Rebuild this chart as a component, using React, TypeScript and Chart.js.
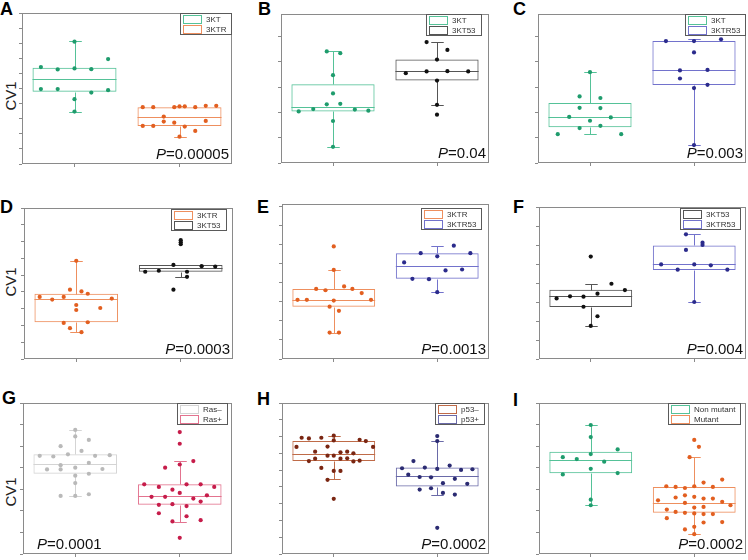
import React, { useEffect, useRef } from 'react';
import { Chart, registerables } from 'chart.js';
Chart.register(...registerables);

const FONT = "'Liberation Sans', Arial, Helvetica, sans-serif";

// ---------------- DATA ----------------
const panelLetters = ['A', 'B', 'C', 'D', 'E', 'F', 'G', 'H', 'I'];
const groupLabels = [
  ['3KT', '3KTR'],
  ['3KT', '3KT53'],
  ['3KT', '3KTR53'],
  ['3KTR', '3KT53'],
  ['3KTR', '3KTR53'],
  ['3KT53', '3KTR53'],
  ['Ras\u2013', 'Ras+'],
  ['p53\u2013', 'p53+'],
  ['Non mutant', 'Mutant'],
];
const pValues = ['0.00005', '0.04', '0.003', '0.0003', '0.0013', '0.004', '0.0001', '0.0002', '0.0002'];
const yMax = [10, 5.89, 5.89, 9, 8.14, 8, 7, 9, 7];
const yTickStep = [1, 1, 1, 1, 1, 1, 1, 1, 1];
const xCategoryPositions = [1, 2];

// box stats: [lower whisker, Q1, median, Q3, upper whisker]
const A1_values = [6.42, 6.26, 6.33, 6.28, 6.95, 4.96, 4.96, 8.10, 4.29, 3.47, 4.73, 4.89];
const A1_jitter = [-0.32, -0.16, 0, 0.16, 0.32, -0.32, -0.16, 0, 0, 0, 0.16, 0.32];
const A1_box = [3.47, 4.78, 5.62, 6.37, 8.12];
const A2_values = [3.76, 3.76, 3.76, 3.81, 3.81, 3.76, 3.85, 3.85, 3.14, 2.81, 2.74, 2.52, 2.52, 2.48, 2.19, 2.85, 1.81];
const A2_jitter = [-0.35, -0.25, -0.05, 0, 0.05, 0.15, 0.25, 0.35, -0.15, -0.15, -0.05, -0.35, -0.25, 0.05, 0.15, 0.25, 0];
const A2_box = [1.81, 2.52, 3.14, 3.76, 3.85];

const B1_values = [4.41, 4.34, 3.47, 2.75, 2.32, 2.34, 2.13, 2.04, 2.11, 2.07, 1.66, 0.64];
const B1_jitter = [-0.06, 0.07, 0, 0, -0.06, 0.07, -0.19, -0.33, 0.21, 0.34, 0, 0];
const B1_box = [0.64, 2.04, 2.21, 3.11, 4.41];
const B2_values = [4.78, 4.47, 4.09, 3.55, 3.62, 3.63, 3.62, 3.26, 2.30, 1.91];
const B2_jitter = [-0.10, 0.10, 0, -0.30, -0.10, 0.10, 0.30, 0, 0, 0];
const B2_box = [2.30, 3.26, 3.62, 4.09, 4.78];

const C1_values = [2.63, 2.57, 2.18, 2.17, 1.82, 1.80, 1.67, 1.38, 1.47, 1.14, 1.14, 3.59];
const C1_jitter = [-0.10, 0.10, -0.10, 0.10, -0.20, 0.20, 0, -0.10, 0.10, -0.31, 0.30, 0];
const C1_box = [1.13, 1.41, 1.80, 2.37, 3.59];
const C2_values = [4.82, 4.82, 4.89, 4.37, 3.66, 3.68, 3.34, 2.96, 3.09, 0.71];
const C2_jitter = [-0.27, 0, 0.26, 0, -0.135, 0.13, -0.135, 0, 0.13, 0];
const C2_box = [0.71, 3.08, 3.68, 4.82, 4.91];

const D1_values = [3.70, 3.54, 3.70, 4.13, 4.03, 3.89, 3.60, 3.22, 2.92, 3.04, 2.15, 2.19, 1.84, 1.60, 5.85];
const D1_jitter = [-0.35, -0.23, -0.12, -0.06, 0.05, 0.11, 0.34, 0, 0, 0.23, -0.12, 0.11, -0.06, 0.05, 0];
const D1_box = [1.60, 2.19, 3.56, 3.89, 5.85];
const D2_values = [7.08, 6.96, 6.84, 5.20, 5.26, 5.61, 5.20, 4.90, 5.53, 5.51, 4.13];
const D2_jitter = [0, 0, 0, -0.34, -0.21, -0.07, 0.06, 0.06, 0.20, 0.33, -0.07];
const D2_box = [4.90, 5.20, 5.40, 5.61, 5.61];

const E1_values = [5.91, 4.68, 3.68, 3.61, 3.81, 3.68, 3.46, 3.11, 3.11, 3.07, 3.11, 2.75, 2.53, 1.39, 1.39];
const E1_jitter = [0, 0, -0.17, -0.08, 0.10, 0.18, 0.27, -0.35, -0.26, 0, 0.36, -0.04, 0.05, -0.04, 0.05];
const E1_box = [1.39, 2.75, 3.11, 3.68, 4.68];
const E2_values = [5.07, 5.56, 5.39, 5.95, 5.56, 4.21, 4.19, 4.65, 4.70, 3.51];
const E2_jitter = [-0.32, -0.16, 0, 0.16, 0.32, -0.24, -0.08, 0.08, 0.24, 0];
const E2_box = [3.51, 4.21, 4.88, 5.56, 5.96];

const F1_values = [3.19, 3.30, 3.28, 3.44, 3.63, 5.39, 3.96, 2.75, 2.25, 1.74];
const F1_jitter = [-0.33, -0.20, -0.07, 0.065, 0.33, 0, 0.20, -0.07, 0.065, 0];
const F1_box = [1.74, 2.74, 3.32, 3.65, 3.96];
const F2_values = [6.56, 6.12, 6.00, 5.74, 4.98, 4.98, 4.93, 4.70, 4.70, 3.00];
const F2_jitter = [-0.08, 0.08, 0.08, -0.08, -0.32, 0, 0.16, -0.16, 0.32, 0];
const F2_box = [3.00, 4.68, 4.98, 5.98, 6.58];

const G1_values = [4.55, 4.52, 4.62, 4.78, 4.55, 4.58, 3.92, 4.12, 3.92, 4.00, 4.22, 3.94, 3.72, 3.63, 3.29, 2.69, 2.69, 2.77, 5.00, 5.45, 5.75, 5.29];
const G1_jitter = [-0.34, -0.21, -0.07, 0.06, 0.19, 0.33, -0.27, -0.14, -0.14, 0, 0.13, 0.26, 0.13, 0, 0, -0.14, 0, 0.13, -0.14, 0, 0, 0.13];
const G1_box = [2.69, 3.72, 4.18, 4.62, 5.75];
const G2_values = [5.65, 5.11, 4.31, 4.15, 4.00, 3.23, 3.11, 2.98, 3.23, 3.23, 3.11, 2.65, 2.65, 2.83, 2.57, 2.72, 2.43, 2.28, 2.31, 2.22, 1.89, 1.75, 1.51, 1.57, 0.75];
const G2_jitter = [0, 0, 0.13, 0, -0.14, -0.34, -0.20, -0.07, 0.065, 0.20, 0.33, -0.27, -0.14, 0, 0.13, 0.26, 0.20, -0.20, -0.07, 0.065, -0.20, 0.065, -0.07, 0.20, 0];
const G2_box = [1.49, 2.28, 2.71, 3.23, 4.31];

const H1_values = [6.38, 6.93, 6.89, 6.93, 7.05, 6.77, 6.81, 6.73, 6.38, 6.40, 6.10, 6.06, 6.10, 6.00, 5.86, 5.86, 5.54, 5.68, 5.68, 5.70, 5.52, 5.56, 5.13, 4.95, 4.95, 4.42, 3.29];
const H1_jitter = [-0.36, -0.31, -0.24, -0.12, 0, 0, 0.25, 0.31, 0.38, -0.06, -0.18, 0.065, 0.13, 0.19, -0.06, 0, -0.24, -0.18, 0.065, 0.13, 0.19, 0.25, -0.12, 0, 0.065, -0.06, 0];
const H1_box = [4.48, 5.54, 5.98, 6.73, 7.05];
const H2_values = [7.03, 6.73, 5.54, 5.11, 5.15, 5.07, 5.27, 5.01, 5.05, 4.73, 4.59, 4.57, 4.48, 4.22, 4.18, 3.84, 3.92, 3.64, 3.54, 1.56];
const H2_jitter = [0, 0, -0.23, -0.34, -0.12, 0, 0.12, 0.23, 0.34, -0.28, -0.17, -0.06, 0.17, 0.055, 0.29, -0.17, -0.06, 0.055, 0.17, 0];
const H2_box = [3.54, 4.02, 4.67, 5.15, 6.75];

const I1_values = [4.49, 4.40, 4.63, 4.28, 4.85, 3.69, 3.95, 3.75, 5.42, 5.98, 2.52, 2.26];
const I1_jitter = [-0.27, -0.135, 0, 0.13, 0.26, -0.27, 0, 0.26, 0, 0, 0, 0];
const I1_box = [2.26, 3.74, 4.34, 4.74, 5.98];
const I2_values = [5.29, 4.97, 4.49, 3.14, 3.11, 3.06, 3.14, 3.31, 3.11, 3.45, 2.62, 2.72, 2.65, 2.57, 2.57, 2.42, 2.49, 2.37, 2.15, 2.18, 2.26, 2.06, 1.95, 1.91, 1.88, 1.85, 1.85, 1.66, 1.14, 1.26, 1.46, 1.48, 0.92];
const I2_jitter = [0, 0.045, -0.045, -0.27, -0.18, -0.09, 0, 0.09, 0.18, 0.27, -0.18, -0.09, 0, 0.09, 0.18, 0.27, -0.35, -0.09, 0, 0.09, 0.35, -0.265, -0.18, -0.09, 0, 0.09, 0.18, -0.265, -0.09, 0, 0.09, 0.27, 0];
const I2_box = [0.92, 1.91, 2.35, 3.11, 4.49];

const panelValues = [
  [A1_values, A2_values], [B1_values, B2_values], [C1_values, C2_values],
  [D1_values, D2_values], [E1_values, E2_values], [F1_values, F2_values],
  [G1_values, G2_values], [H1_values, H2_values], [I1_values, I2_values],
];
const panelJitter = [
  [A1_jitter, A2_jitter], [B1_jitter, B2_jitter], [C1_jitter, C2_jitter],
  [D1_jitter, D2_jitter], [E1_jitter, E2_jitter], [F1_jitter, F2_jitter],
  [G1_jitter, G2_jitter], [H1_jitter, H2_jitter], [I1_jitter, I2_jitter],
];
const panelBoxes = [
  [A1_box, A2_box], [B1_box, B2_box], [C1_box, C2_box],
  [D1_box, D2_box], [E1_box, E2_box], [F1_box, F2_box],
  [G1_box, G2_box], [H1_box, H2_box], [I1_box, I2_box],
];

// ---------------- STYLE / LAYOUT ----------------
const PALETTE: Record<string, { point: string; line: string }> = {
  green: { point: '#1f9c6d', line: '#55c298' },
  orange: { point: '#e25f20', line: '#ee8f5e' },
  black: { point: '#111111', line: '#555555' },
  blue: { point: '#2b2b8c', line: '#7272cc' },
  rasNeg: { point: '#b9b9b9', line: '#d4d4d4' },
  rasPos: { point: '#c61c4a', line: '#e3738f' },
  p53Neg: { point: '#7a2612', line: '#bf6b48' },
  p53Pos: { point: '#2b2b72', line: '#6a6aa8' },
};
const panelColors = [
  ['green', 'orange'], ['green', 'black'], ['green', 'blue'],
  ['orange', 'black'], ['orange', 'blue'], ['black', 'blue'],
  ['rasNeg', 'rasPos'], ['p53Neg', 'p53Pos'], ['green', 'orange'],
];
const GEOM = [
  { l: 22, t: 13, r: 232, b: 164 },
  { l: 281, t: 14, r: 489, b: 163 },
  { l: 538, t: 14, r: 746, b: 163 },
  { l: 24, t: 208, r: 233, b: 359 },
  { l: 282, t: 204, r: 489, b: 359 },
  { l: 539, t: 207, r: 746, b: 359 },
  { l: 23, t: 403, r: 232, b: 554 },
  { l: 282, t: 403, r: 489, b: 554 },
  { l: 539, t: 403, r: 746, b: 554 },
];
const LETTER_POS = [
  { x: 0, y: 15 }, { x: 258, y: 15 }, { x: 513, y: 15 },
  { x: 0, y: 213 }, { x: 257, y: 213 }, { x: 513, y: 213 },
  { x: 2, y: 404 }, { x: 257, y: 405 }, { x: 513, y: 406 },
];
const LEGEND_INSET = [
  { r: 0, t: 0 }, { r: 7, t: 0 }, { r: 0, t: 0 },
  { r: 6, t: 1 }, { r: 7, t: 4 }, { r: 5, t: 1 },
  { r: 4, t: 0 }, { r: 4, t: 0 }, { r: 5, t: 0 },
];
const P_LEFT = [false, false, false, false, false, false, true, false, false];
const CV1_POS = [{ x: 10, y: 96 }, { x: 10, y: 282 }, { x: 10, y: 492 }];

function Panel({ idx }: { idx: number }) {
  const ref = useRef<HTMLCanvasElement>(null);
  const g = GEOM[idx];
  const plotW = g.r - g.l;
  const plotH = g.b - g.t;
  const cw = plotW + 9;
  const ch = plotH + 9;

  useEffect(() => {
    const canvas = ref.current;
    if (!canvas) return;
    const colors = panelColors[idx].map((c) => PALETTE[c]);
    const labels = groupLabels[idx];
    const boxes = panelBoxes[idx];
    const nG = labels.length;

    const yTicks: number[] = [];
    for (let v = 0; v <= yMax[idx] + 1e-9; v += yTickStep[idx]) yTicks.push(v);

    const decoPlugin = {
      id: 'boxdeco' + idx,
      beforeDatasetsDraw(chart: any) {
        const { ctx, scales } = chart;
        const ys = scales.y;
        const meta = chart.getDatasetMeta(nG);
        meta.data.forEach((bar: any, i: number) => {
          const [lo, q1, med, q3, hi] = boxes[i];
          const cx = Math.round(bar.x) + 0.5;
          const half = bar.width / 2;
          const cap = bar.width * 0.075;
          const py = (v: number) => Math.round(ys.getPixelForValue(v)) + 0.5;
          ctx.save();
          ctx.strokeStyle = colors[i].line;
          ctx.lineWidth = 1;
          ctx.beginPath();
          ctx.moveTo(cx, py(hi)); ctx.lineTo(cx, py(q3));
          ctx.moveTo(cx, py(q1)); ctx.lineTo(cx, py(lo));
          ctx.moveTo(cx - cap, py(hi)); ctx.lineTo(cx + cap, py(hi));
          ctx.moveTo(cx - cap, py(lo)); ctx.lineTo(cx + cap, py(lo));
          ctx.moveTo(bar.x - half, py(med)); ctx.lineTo(bar.x + half, py(med));
          ctx.stroke();
          ctx.restore();
        });
      },
      afterDraw(chart: any) {
        const { ctx, chartArea } = chart;
        const { left, top, right, bottom } = chartArea;
        ctx.save();
        // frame
        ctx.strokeStyle = '#8a8a8a';
        ctx.lineWidth = 1;
        ctx.strokeRect(left + 0.5, top + 0.5, right - left - 1, bottom - top - 1);
        // legend
        ctx.font = `8px ${FONT}`;
        const textW = Math.max(...labels.map((l) => ctx.measureText(l).width));
        const legW = Math.round(3 + 18 + 5 + textW + 6);
        const legH = 22;
        const ins = LEGEND_INSET[idx];
        const lx = Math.round(right - ins.r - legW);
        const ly = top + ins.t;
        ctx.fillStyle = '#ffffff';
        ctx.fillRect(lx, ly, legW, legH);
        ctx.strokeStyle = '#5a5a5a';
        ctx.strokeRect(lx + 0.5, ly + 0.5, legW - 1, legH - 1);
        labels.forEach((lab, i) => {
          const sy = ly + 2 + i * 9.5;
          ctx.strokeStyle = colors[i].line;
          ctx.strokeRect(lx + 3.5, Math.round(sy) + 0.5, 18, 8);
          ctx.fillStyle = '#333333';
          ctx.textBaseline = 'middle';
          ctx.textAlign = 'left';
          ctx.fillText(lab, lx + 3 + 18 + 5, sy + 5);
        });
        // p-value
        ctx.textBaseline = 'alphabetic';
        ctx.font = `italic 15px ${FONT}`;
        const wP = ctx.measureText('P').width;
        ctx.font = `15px ${FONT}`;
        const rest = '=' + pValues[idx];
        const wR = ctx.measureText(rest).width;
        const px = P_LEFT[idx] ? left + 14 : right - 3 - wP - wR;
        const pyy = bottom - 5;
        ctx.fillStyle = '#111111';
        ctx.font = `italic 15px ${FONT}`;
        ctx.fillText('P', px, pyy);
        ctx.font = `15px ${FONT}`;
        ctx.fillText(rest, px + wP, pyy);
        ctx.restore();
      },
    };

    const scatterSets = labels.map((_, gi) => ({
      type: 'scatter' as const,
      data: panelValues[idx][gi].map((v, k) => ({ x: xCategoryPositions[gi] + panelJitter[idx][gi][k], y: v })),
      pointRadius: 2.1,
      pointBackgroundColor: colors[gi].point,
      pointBorderColor: colors[gi].point,
      pointBorderWidth: 0,
      pointHoverRadius: 2.1,
    }));
    const barSet = {
      type: 'bar' as const,
      data: boxes.map((b, gi) => ({ x: xCategoryPositions[gi], y: [b[1], b[3]] })),
      backgroundColor: 'rgba(0,0,0,0)',
      borderColor: colors.map((c) => c.line),
      borderWidth: 1,
      borderSkipped: false,
      barPercentage: 0.8,
      categoryPercentage: 1,
    };

    const chart = new Chart(canvas, {
      type: 'bar',
      data: { datasets: [...scatterSets, barSet] as any },
      options: {
        responsive: false,
        animation: false,
        devicePixelRatio: 1,
        events: [],
        layout: { padding: { left: 0, top: 3, right: 3, bottom: 0 } },
        plugins: { legend: { display: false }, tooltip: { enabled: false } },
        scales: {
          x: {
            type: 'linear',
            min: 0.5,
            max: 2.5,
            offset: false,
            border: { display: false },
            grid: { offset: false, drawOnChartArea: false, drawTicks: true, tickLength: 3, color: '#8a8a8a' },
            ticks: { display: false },
            afterBuildTicks: (s: any) => { s.ticks = xCategoryPositions.map((v) => ({ value: v })); },
            afterFit: (s: any) => { s.height = 6; },
          },
          y: {
            type: 'linear',
            min: 0,
            max: yMax[idx],
            border: { display: false },
            grid: { drawOnChartArea: false, drawTicks: true, tickLength: 3, color: '#8a8a8a' },
            ticks: { display: false },
            afterBuildTicks: (s: any) => { s.ticks = yTicks.map((v) => ({ value: v })); },
            afterFit: (s: any) => { s.width = 6; },
          },
        },
      } as any,
      plugins: [decoPlugin],
    });
    return () => chart.destroy();
  }, [idx]);

  return (
    <canvas
      ref={ref}
      width={cw}
      height={ch}
      style={{ position: 'absolute', left: g.l - 6, top: g.t - 3, width: cw, height: ch }}
    />
  );
}

export default function App() {
  return (
    <div
      style={{
        position: 'absolute', left: 0, top: 0, width: 748, height: 560,
        background: '#ffffff', overflow: 'hidden', fontFamily: FONT,
      }}
    >
      {panelLetters.map((L, i) => (
        <div
          key={L}
          style={{
            position: 'absolute', left: LETTER_POS[i].x, top: LETTER_POS[i].y - 15,
            fontSize: 18, lineHeight: '18px', fontWeight: 'bold', color: '#000',
          }}
        >
          {L}
        </div>
      ))}
      {CV1_POS.map((p, i) => (
        <div
          key={'cv' + i}
          style={{
            position: 'absolute', left: p.x, top: p.y, fontSize: 15, lineHeight: '15px',
            color: '#222', whiteSpace: 'nowrap', transform: 'translate(-50%, -50%) rotate(-90deg)',
          }}
        >
          CV1
        </div>
      ))}
      {panelLetters.map((_, i) => (
        <Panel key={'p' + i} idx={i} />
      ))}
    </div>
  );
}
